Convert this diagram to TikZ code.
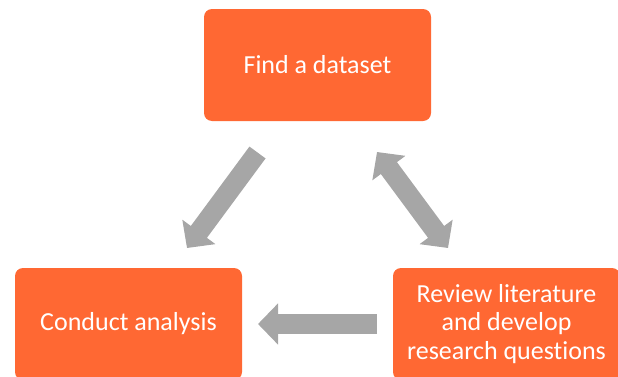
\documentclass[tikz,border=0pt]{standalone}
\usepackage{fontspec}
\setmainfont{Carlito}[Ligatures=NoCommon]
\usepackage{tikz}
\usetikzlibrary{arrows.meta}

\definecolor{boxorange}{HTML}{FF6833}
\definecolor{arrowgray}{HTML}{A6A6A6}

\begin{document}
\begin{tikzpicture}[x=1pt,y=1pt,>={Triangle[length=20pt,width=40pt]},
                    line width=20pt]
  \tikzstyle{stage}=[rectangle,rounded corners=8pt,fill=boxorange,text=white,
                     minimum width=227pt,minimum height=112pt,align=center,
                     font=\fontsize{26}{28.5}\selectfont]
  \tikzstyle{flow}=[draw=arrowgray,line width=20pt]

  \useasboundingbox (0,0) rectangle (618,376);
  \clip (0,0) rectangle (618,376);

  \node[stage] (find)    at (317.5,311) {Find a dataset};
  \node[stage] (analyse) at (128.5,52)  {Conduct analysis};
  \node[stage] (review)  at (506.5,52)  {Review literature\\and develop\\research questions};

  % arrow ends between the boxes
  \coordinate (findL)    at (257.5,223.5);
  \coordinate (analyseT) at (187,128);
  \coordinate (findR)    at (377,224);
  \coordinate (reviewT)  at (448,128);
  \coordinate (reviewL)  at (377,52);
  \coordinate (analyseR) at (258,52);

  \draw[flow,->]  (findL)   -- (analyseT);
  \draw[flow,<->] (findR)   -- (reviewT);
  \draw[flow,->]  (reviewL) -- (analyseR);
\end{tikzpicture}
\end{document}
